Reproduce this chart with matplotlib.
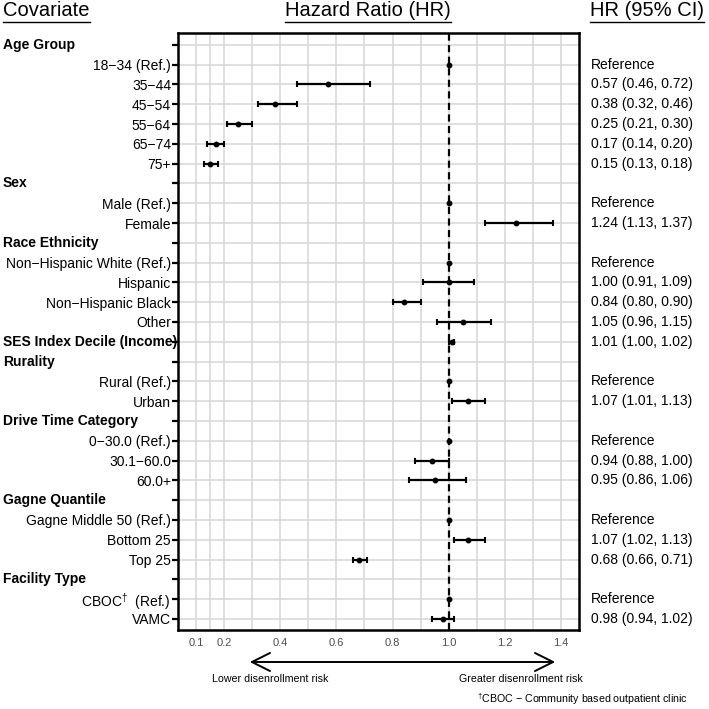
import matplotlib
matplotlib.use("Agg")
import matplotlib.pyplot as plt
from matplotlib.transforms import blended_transform_factory
from matplotlib.lines import Line2D

plt.rcParams.update({"font.family": ["Liberation Sans", "DejaVu Sans"],
                     "mathtext.fontset": "custom", "mathtext.rm": "Liberation Sans",
                     "mathtext.it": "Liberation Sans:italic", "mathtext.bf": "Liberation Sans:bold"})

# ---- data (rows top to bottom; header rows flagged) ----
labels = ["Age Group", "18\u221234 (Ref.)", "35\u221244", "45\u221254", "55\u221264", "65\u221274", "75+",
          "Sex", "Male (Ref.)", "Female",
          "Race Ethnicity", "Non\u2212Hispanic White (Ref.)", "Hispanic", "Non\u2212Hispanic Black", "Other",
          "SES Index Decile (Income)",
          "Rurality", "Rural (Ref.)", "Urban",
          "Drive Time Category", "0\u221230.0 (Ref.)", "30.1\u221260.0", "60.0+",
          "Gagne Quantile", "Gagne Middle 50 (Ref.)", "Bottom 25", "Top 25",
          "Facility Type", r"CBOC$^{\dagger}$  (Ref.)", "VAMC"]
is_header = [1, 0, 0, 0, 0, 0, 0,
             1, 0, 0,
             1, 0, 0, 0, 0,
             1,
             1, 0, 0,
             1, 0, 0, 0,
             1, 0, 0, 0,
             1, 0, 0]
# None = no estimate; reference rows drawn at 1.0 with no interval
hr = [None, 1.00, 0.57, 0.38, 0.25, 0.17, 0.15,
      None, 1.00, 1.24,
      None, 1.00, 1.00, 0.84, 1.05,
      1.01,
      None, 1.00, 1.07,
      None, 1.00, 0.94, 0.95,
      None, 1.00, 1.07, 0.68,
      None, 1.00, 0.98]
lo = [None, None, 0.46, 0.32, 0.21, 0.14, 0.13,
      None, None, 1.13,
      None, None, 0.91, 0.80, 0.96,
      1.00,
      None, None, 1.01,
      None, None, 0.88, 0.86,
      None, None, 1.02, 0.66,
      None, None, 0.94]
hi = [None, None, 0.72, 0.46, 0.30, 0.20, 0.18,
      None, None, 1.37,
      None, None, 1.09, 0.90, 1.15,
      1.02,
      None, None, 1.13,
      None, None, 1.00, 1.06,
      None, None, 1.13, 0.71,
      None, None, 1.02]
ci_text = ["", "Reference", "0.57 (0.46, 0.72)", "0.38 (0.32, 0.46)", "0.25 (0.21, 0.30)", "0.17 (0.14, 0.20)",
           "0.15 (0.13, 0.18)",
           "", "Reference", "1.24 (1.13, 1.37)",
           "", "Reference", "1.00 (0.91, 1.09)", "0.84 (0.80, 0.90)", "1.05 (0.96, 1.15)",
           "1.01 (1.00, 1.02)",
           "", "Reference", "1.07 (1.01, 1.13)",
           "", "Reference", "0.94 (0.88, 1.00)", "0.95 (0.86, 1.06)",
           "", "Reference", "1.07 (1.02, 1.13)", "0.68 (0.66, 0.71)",
           "", "Reference", "0.98 (0.94, 1.02)"]
xticks = [0.1, 0.2, 0.4, 0.6, 0.8, 1.0, 1.2, 1.4]
xminor = [0.15, 0.3, 0.5, 0.7, 0.9, 1.1, 1.3]

W = H = 709
fig = plt.figure(figsize=(7.09, 7.09), dpi=100)
ax = fig.add_axes([178 / W, 1 - 630 / H, (579 - 178) / W, (630 - 33) / H])
n = len(labels)
rows = list(range(n))

ax.set_xlim(0.036, 1.464)
ax.set_ylim(n - 1 + 0.56, -0.6)
ax.set_xticks(xticks)
ax.set_xticklabels([f"{t:.1f}" for t in xticks], fontsize=8, color="#4d4d4d")
ax.set_xticks(xminor, minor=True)
ax.tick_params(axis="x", which="both", length=0, pad=6)
ax.set_yticks(rows)
ax.set_yticklabels(["" if h else l for l, h in zip(labels, is_header)], fontsize=10, color="black")
ax.tick_params(axis="y", length=4, width=1.6, color="black", pad=1)
ax.grid(True, which="both", color="#d6d6d6", lw=1.1)
ax.set_axisbelow(True)
for s in ax.spines.values():
    s.set_linewidth(1.8)
    s.set_color("black")

ax.axvline(1.0, color="black", lw=1.6, ls=(0, (3.2, 2)), zorder=3)

for r in rows:
    if hr[r] is None:
        continue
    if lo[r] is not None:
        ax.errorbar(hr[r], r, xerr=[[hr[r] - lo[r]], [hi[r] - hr[r]]], fmt="none", ecolor="black",
                    elinewidth=1.6, capsize=1.9, capthick=1.5, zorder=4)
    ax.plot(hr[r], r, "o", color="black", ms=3.2, zorder=5)

# headers on the left, CI text on the right
tr_left = blended_transform_factory(fig.transFigure, ax.transData)
for r in rows:
    if is_header[r]:
        fig.text(3 / W, 0, labels[r], transform=tr_left, fontsize=10, fontweight="bold",
                 ha="left", va="center").set_y(r)
    if ci_text[r]:
        fig.text(591 / W, 0, ci_text[r], transform=tr_left, fontsize=10, ha="left", va="center").set_y(r)

# column titles with underlines
titles = [("Covariate", 3 / W, "left"), ("Hazard Ratio (HR)", 368 / W, "center"), ("HR (95% CI)", 590 / W, "left")]
title_objs = [fig.text(x, 1 - 11 / H, t, fontsize=14.5, ha=ha, va="center") for t, x, ha in titles]
fig.canvas.draw()
rend = fig.canvas.get_renderer()
for t in title_objs:
    bb = t.get_window_extent(rend)
    fig.add_artist(Line2D([bb.x0 / W, bb.x1 / W], [1 - 21.5 / H] * 2, transform=fig.transFigure,
                          color="black", lw=1.0))

# direction arrow and notes
fig.add_artist(matplotlib.patches.FancyArrowPatch((247 / W, 1 - 662 / H), (558 / W, 1 - 662 / H),
                                                  transform=fig.transFigure,
                                                  arrowstyle="<->,head_length=1.3,head_width=0.65",
                                                  mutation_scale=10, lw=1.4, color="black"))
fig.text(270 / W, 1 - 679 / H, "Lower disenrollment risk", fontsize=7.7, ha="center", va="center")
fig.text(521 / W, 1 - 679 / H, "Greater disenrollment risk", fontsize=7.7, ha="center", va="center")
fig.text(688 / W, 1 - 699 / H, "$^{\\dagger}$CBOC \u2212 Community based outpatient clinic",
         fontsize=7.7, ha="right", va="center")

fig.savefig("out.png", dpi=100)
